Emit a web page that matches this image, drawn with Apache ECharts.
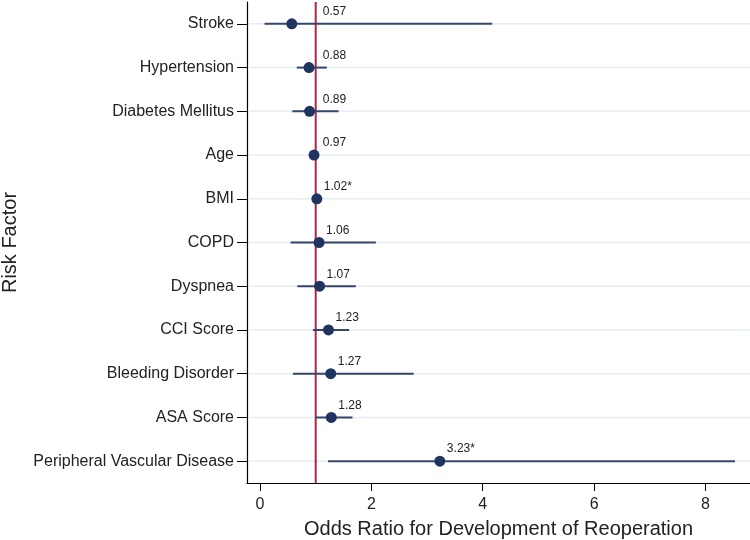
<!DOCTYPE html>
<html>
<head>
<meta charset="utf-8">
<script src="https://cdn.jsdelivr.net/npm/echarts@6/dist/echarts.min.js"></script>
<style>html,body{margin:0;padding:0;background:#fff}#c{width:750px;height:540px}</style>
</head>
<body>
<div id="c"></div>
<script>
const categories = ['Stroke','Hypertension','Diabetes Mellitus','Age','BMI','COPD','Dyspnea','CCI Score','Bleeding Disorder','ASA Score','Peripheral Vascular Disease'];
const oddsRatios = [0.57,0.88,0.89,0.97,1.02,1.06,1.07,1.23,1.27,1.28,3.23];
const ciLower = [0.08,0.66,0.58,0.95,1.01,0.55,0.67,0.95,0.59,1.00,1.22];
const ciUpper = [4.17,1.20,1.41,0.99,1.03,2.08,1.72,1.60,2.76,1.66,8.53];
const labelTexts = ['0.57','0.88','0.89','0.97','1.02*','1.06','1.07','1.23','1.27','1.28','3.23*'];
const xTicks = [0,2,4,6,8];
const referenceValue = 1;

const FONT = 'Liberation Sans, Arial, sans-serif';
const chart = echarts.init(document.getElementById('c'), null, {renderer:'canvas'});
const data = categories.map((c,i)=>[oddsRatios[i], i, ciLower[i], ciUpper[i]]);

chart.setOption({
  animation:false,
  grid:{left:247,right:0,top:2,bottom:57,containLabel:false,outerBoundsMode:'none'},
  xAxis:{
    type:'value', min:-0.234, max:8.8,
    axisLine:{show:true,onZero:false,lineStyle:{color:'#000',width:1.2}},
    axisTick:{show:true,length:8,customValues:xTicks,lineStyle:{color:'#000'}},
    axisLabel:{customValues:xTicks,color:'#222',fontSize:16,fontFamily:FONT,margin:14},
    splitLine:{show:false},
    name:'Odds Ratio for Development of Reoperation', nameLocation:'middle', nameGap:36,
    nameTextStyle:{fontSize:20,color:'#222',fontFamily:FONT}
  },
  yAxis:{
    type:'category', data:categories, inverse:true,
    axisLine:{show:true,onZero:false,lineStyle:{color:'#000',width:1.2}},
    axisTick:{show:true,alignWithLabel:true,length:10,lineStyle:{color:'#000'}},
    axisLabel:{color:'#222',fontSize:16,fontFamily:FONT,margin:13},
    splitLine:{show:false},
    name:'Risk Factor', nameLocation:'middle', nameGap:227, nameRotate:90,
    nameTextStyle:{fontSize:20,color:'#222',fontFamily:FONT}
  },
  series:[{
    type:'custom',
    data:data,
    clip:false,
    renderItem:function(params, api){
      const y = api.coord([0, api.value(1)])[1];
      const cs = params.coordSys;
      const p = api.coord([api.value(0), api.value(1)]);
      const lo = api.coord([api.value(2), api.value(1)]);
      const hi = api.coord([api.value(3), api.value(1)]);
      const refX = api.coord([referenceValue, api.value(1)])[0];
      const lx = api.coord([Math.max(api.value(0), referenceValue), api.value(1)])[0];
      const children = [
        {type:'line', shape:{x1:cs.x+1, y1:y, x2:cs.x+cs.width, y2:y}, style:{stroke:'#e6ecf1', lineWidth:1.5}, z2:0},
        {type:'line', shape:{x1:lo[0], y1:y, x2:hi[0], y2:y}, style:{stroke:'#34466c', lineWidth:2}, z2:2},
        {type:'circle', shape:{cx:p[0], cy:y, r:5.5}, style:{fill:'#1f3461'}, z2:4},
        {type:'text', x:lx+7, y:y-12, style:{text:labelTexts[params.dataIndex], fill:'#222', font:'12px '+FONT, textAlign:'left', textVerticalAlign:'middle'}, z2:5}
      ];
      if (params.dataIndex === 0) {
        children.push({type:'line', shape:{x1:refX, y1:cs.y, x2:refX, y2:cs.y+cs.height}, style:{stroke:'#a52a44', lineWidth:2}, z2:1});
      }
      return {type:'group', children:children};
    }
  }]
});
</script>
</body>
</html>
